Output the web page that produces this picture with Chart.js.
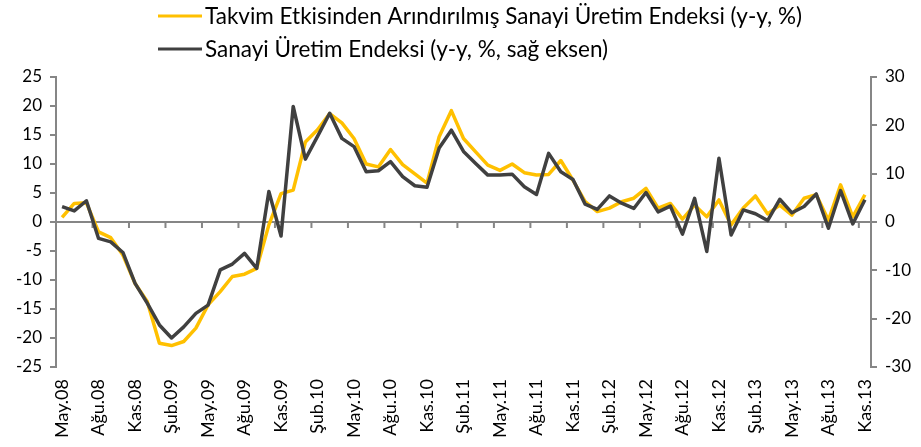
<!DOCTYPE html>
<html>
<head>
<meta charset="utf-8">
<script src="https://cdn.jsdelivr.net/npm/chart.js@4.4.1/dist/chart.umd.min.js"></script>
<style>
  body { margin: 0; background: #fff; }
</style>
</head>
<body>
<canvas id="chart" width="921" height="447"></canvas>
<script>
// months on the x axis (May.08 - Kas.13), only every 3rd is labelled
const months = [
  "May.08","Haz.08","Tem.08","Ağu.08","Eyl.08","Eki.08","Kas.08","Ara.08",
  "Oca.09","Şub.09","Mar.09","Nis.09","May.09","Haz.09","Tem.09","Ağu.09","Eyl.09","Eki.09","Kas.09","Ara.09",
  "Oca.10","Şub.10","Mar.10","Nis.10","May.10","Haz.10","Tem.10","Ağu.10","Eyl.10","Eki.10","Kas.10","Ara.10",
  "Oca.11","Şub.11","Mar.11","Nis.11","May.11","Haz.11","Tem.11","Ağu.11","Eyl.11","Eki.11","Kas.11","Ara.11",
  "Oca.12","Şub.12","Mar.12","Nis.12","May.12","Haz.12","Tem.12","Ağu.12","Eyl.12","Eki.12","Kas.12","Ara.12",
  "Oca.13","Şub.13","Mar.13","Nis.13","May.13","Haz.13","Tem.13","Ağu.13","Eyl.13","Eki.13","Kas.13"
]

// calendar adjusted index, left axis
const adjusted = [
  0.8, 3.2, 3.3, -1.7, -2.7, -5.7, -10.6, -13.7, -20.9, -21.3,
  -20.6, -18.3, -14.3, -12.0, -9.4, -9.0, -8.0, -0.5, 4.9, 5.5,
  13.8, 15.9, 18.7, 17.1, 14.4, 10.0, 9.5, 12.5, 9.9, 8.3,
  6.7, 14.7, 19.2, 14.4, 12.1, 9.8, 8.9, 10.0, 8.5, 8.1,
  8.2, 10.6, 7.2, 3.5, 1.8, 2.4, 3.5, 4.1, 5.8, 2.4,
  3.2, 0.5, 2.9, 0.9, 3.8, -0.5, 2.4, 4.5, 1.4, 2.9,
  1.2, 4.1, 4.7, 0.3, 6.4, 0.9, 4.7
]

// raw index, right axis
const raw = [
  3.2, 2.3, 4.4, -3.4, -4.1, -6.3, -12.7, -16.8, -21.3, -24.0,
  -21.7, -18.9, -17.2, -9.9, -8.7, -6.5, -9.6, 6.3, -2.9, 23.9,
  13.0, 17.7, 22.5, 17.3, 15.6, 10.4, 10.6, 12.5, 9.4, 7.5,
  7.2, 15.3, 19.0, 14.6, 12.1, 9.7, 9.7, 9.9, 7.3, 5.7,
  14.2, 10.4, 8.8, 3.7, 2.6, 5.4, 3.9, 2.8, 6.1, 2.1,
  3.3, -2.5, 4.9, -6.1, 13.2, -2.7, 2.5, 1.7, 0.3, 4.7,
  1.9, 3.2, 5.8, -1.3, 6.5, -0.4, 4.6
]

const seriesNames = [
  "Takvim Etkisinden Arındırılmış Sanayi Üretim Endeksi (y-y, %)",
  "Sanayi Üretim Endeksi (y-y, %, sağ eksen)"
]

const axisColor = "#868686"
const fontName = "Lato"

// zero line + category tick marks hanging from it (axis crosses at 0)
const zeroAxis = {
  id: "zeroAxis",
  beforeDatasetsDraw(chart) {
    const ctx = chart.ctx
    const x = chart.scales.x
    const y0 = chart.scales.y.getPixelForValue(0)
    const half = (x.getPixelForValue(1) - x.getPixelForValue(0)) / 2
    ctx.save()
    ctx.strokeStyle = axisColor
    ctx.lineWidth = 2
    ctx.beginPath()
    ctx.moveTo(chart.chartArea.left, y0)
    ctx.lineTo(chart.chartArea.right, y0)
    for (let k = 3; k < months.length; k += 3) {
      const px = x.getPixelForValue(k) - half
      ctx.moveTo(px, y0)
      ctx.lineTo(px, y0 + 6)
    }
    ctx.stroke()
    ctx.restore()
  }
}

// legend: two rows, left aligned
const legendRows = {
  id: "legendRows",
  afterDraw(chart) {
    const ctx = chart.ctx
    ctx.save()
    ctx.font = "22.5px " + fontName
    ctx.textBaseline = "middle"
    chart.data.datasets.forEach((ds, i) => {
      const yy = 16 + i * 33
      ctx.strokeStyle = ds.borderColor
      ctx.lineWidth = 3
      ctx.beginPath()
      ctx.moveTo(158, yy)
      ctx.lineTo(202, yy)
      ctx.stroke()
      ctx.fillStyle = "#000"
      ctx.fillText(ds.label, 205, yy + 1)
    })
    ctx.restore()
  }
}

new Chart(document.getElementById("chart"), {
  type: "line",
  data: {
    labels: months,
    datasets: [
      {
        label: seriesNames[0],
        data: adjusted,
        yAxisID: "y",
        borderColor: "#FFC000",
        borderWidth: 3.5,
        pointRadius: 0,
        tension: 0,
        borderJoinStyle: "round",
        order: 1
      },
      {
        label: seriesNames[1],
        data: raw,
        yAxisID: "y1",
        borderColor: "#404040",
        borderWidth: 3.5,
        pointRadius: 0,
        tension: 0,
        borderJoinStyle: "round",
        order: 0
      }
    ]
  },
  options: {
    responsive: false,
    animation: false,
    layout: { padding: { top: 77, left: 0, right: 0, bottom: 0 } },
    plugins: {
      legend: { display: false },
      tooltip: { enabled: false }
    },
    scales: {
      x: {
        offset: true,
        grid: { display: false, drawTicks: false },
        border: { display: false },
        ticks: {
          autoSkip: false,
          maxRotation: 90,
          minRotation: 90,
          padding: 12,
          color: "#000",
          font: { family: fontName, size: 18 },
          callback: (v, i) => (i % 3 === 0 ? months[i] : "")
        },
        afterFit: (s) => { s.height = 80 }
      },
      y: {
        position: "left",
        min: -25,
        max: 25,
        ticks: { stepSize: 5, color: "#000", padding: 8, font: { family: fontName, size: 17 } },
        grid: { drawOnChartArea: false, color: axisColor, tickLength: 6, lineWidth: 2 },
        border: { color: axisColor, width: 2 },
        afterFit: (s) => { s.width = 56 }
      },
      y1: {
        position: "right",
        min: -30,
        max: 30,
        ticks: { stepSize: 10, color: "#000", padding: 8, font: { family: fontName, size: 17 } },
        grid: { drawOnChartArea: false, color: axisColor, tickLength: 6, lineWidth: 2 },
        border: { color: axisColor, width: 2 },
        afterFit: (s) => { s.width = 50 }
      }
    }
  },
  plugins: [zeroAxis, legendRows]
})
</script>
</body>
</html>
